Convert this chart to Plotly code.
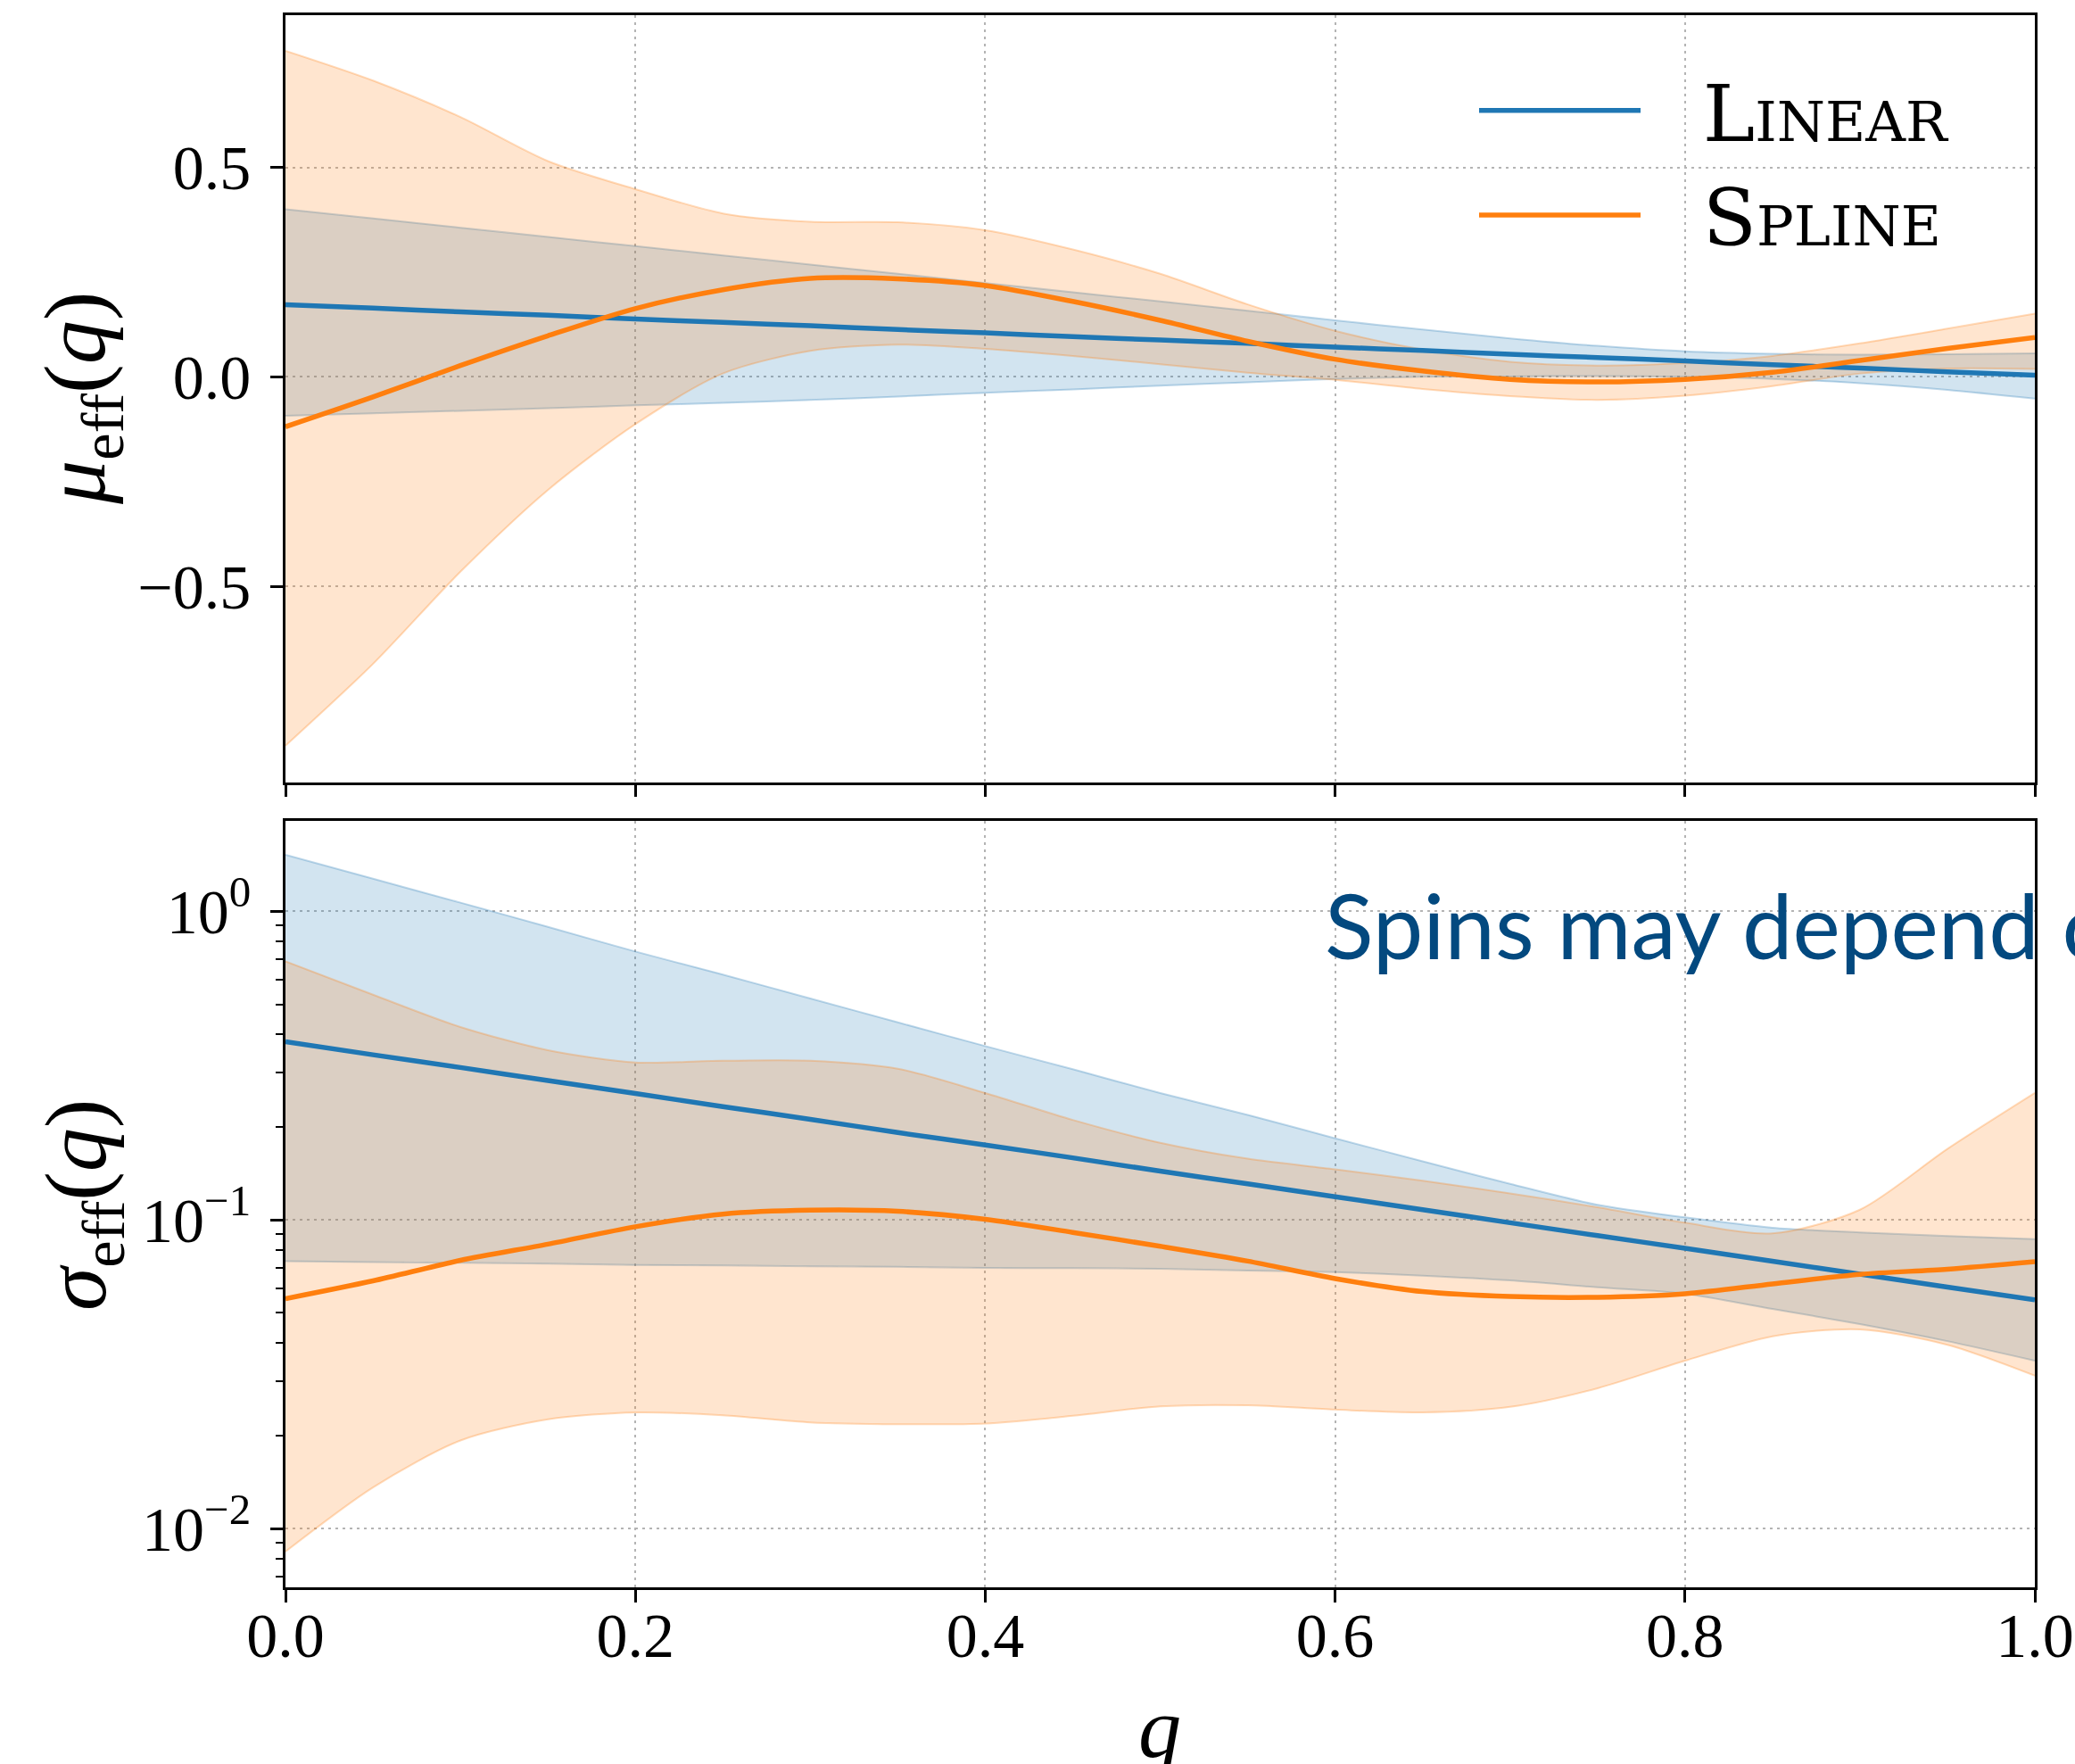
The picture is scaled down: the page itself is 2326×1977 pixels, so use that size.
import plotly.graph_objects as go

# ---------------- data ----------------
q = [0.0, 0.05, 0.1, 0.15, 0.2, 0.25, 0.3, 0.35, 0.4, 0.45, 0.5,
     0.55, 0.6, 0.65, 0.7, 0.75, 0.8, 0.85, 0.9, 0.95, 1.0]

# mu_eff(q) -- Linear model
mu_lin_med = [0.172, 0.164, 0.155, 0.147, 0.138, 0.130, 0.122, 0.113, 0.105, 0.096, 0.088,
              0.080, 0.071, 0.063, 0.054, 0.046, 0.038, 0.029, 0.021, 0.012, 0.004]
mu_lin_hi = [0.400, 0.378, 0.356, 0.334, 0.312, 0.290, 0.268, 0.246, 0.224, 0.202, 0.180,
             0.158, 0.135, 0.113, 0.092, 0.074, 0.061, 0.055, 0.053, 0.054, 0.056]
mu_lin_lo = [-0.093, -0.087, -0.081, -0.075, -0.068, -0.062, -0.055, -0.047, -0.038, -0.030, -0.021,
             -0.013, -0.005, 0.000, 0.001, 0.002, 0.000, -0.005, -0.015, -0.031, -0.052]

# mu_eff(q) -- Spline model
mu_spl_med = [-0.119, -0.048, 0.027, 0.098, 0.163, 0.208, 0.235, 0.234, 0.218, 0.180, 0.135,
              0.085, 0.042, 0.014, -0.006, -0.012, -0.006, 0.011, 0.039, 0.068, 0.094]
mu_spl_hi = [0.778, 0.707, 0.620, 0.515, 0.448, 0.390, 0.370, 0.369, 0.350, 0.304, 0.246,
             0.173, 0.110, 0.065, 0.036, 0.027, 0.033, 0.050, 0.080, 0.115, 0.151]
mu_spl_lo = [-0.880, -0.685, -0.465, -0.270, -0.113, 0.008, 0.062, 0.077, 0.067, 0.050, 0.030,
             0.010, -0.007, -0.029, -0.046, -0.055, -0.045, -0.022, 0.008, 0.020, 0.019]

# sigma_eff(q) -- Linear model
sg_lin_med = [0.378, 0.343, 0.312, 0.283, 0.257, 0.233, 0.212, 0.192, 0.175, 0.159, 0.144,
              0.131, 0.119, 0.108, 0.098, 0.089, 0.081, 0.0735, 0.0668, 0.0606, 0.0551]
sg_lin_hi = [1.524, 1.276, 1.067, 0.891, 0.741, 0.624, 0.522, 0.437, 0.366, 0.308, 0.258,
             0.219, 0.184, 0.155, 0.131, 0.112, 0.102, 0.0944, 0.0912, 0.0887, 0.0867]
sg_lin_lo = [0.0735, 0.0730, 0.0727, 0.0722, 0.0715, 0.0712, 0.0708, 0.0705, 0.0700, 0.0698, 0.0695,
             0.0686, 0.0678, 0.0660, 0.0637, 0.0605, 0.0577, 0.0515, 0.0460, 0.0405, 0.0350]

# sigma_eff(q) -- Spline model
sg_spl_med = [0.0556, 0.0635, 0.0740, 0.0835, 0.0951, 0.1045, 0.1076, 0.1067, 0.1005, 0.0912, 0.0822,
              0.0736, 0.0646, 0.0586, 0.0565, 0.0562, 0.0577, 0.0621, 0.0667, 0.0693, 0.0733]
sg_spl_hi = [0.689, 0.537, 0.422, 0.355, 0.324, 0.328, 0.328, 0.309, 0.258, 0.211, 0.178,
             0.158, 0.146, 0.134, 0.122, 0.110, 0.098, 0.0905, 0.108, 0.170, 0.258]
sg_spl_lo = [0.00843, 0.0136, 0.0193, 0.0226, 0.0238, 0.0233, 0.0221, 0.0218, 0.0219, 0.0232, 0.0249,
             0.0251, 0.0243, 0.0238, 0.0248, 0.0285, 0.0350, 0.0420, 0.0442, 0.0394, 0.0313]

series_names = ["Linear", "Spline"]
x_ticks = [0.0, 0.2, 0.4, 0.6, 0.8, 1.0]
x_ticktext = ["0.0", "0.2", "0.4", "0.6", "0.8", "1.0"]
mu_ticks = [-0.5, 0.0, 0.5]
mu_ticktext = ["\u22120.5", "0.0", "0.5"]
sg_ticks = [0.01, 0.1, 1.0]
sg_ticktext = ["10<sup>\u22122</sup>", "10<sup>\u22121</sup>", "10<sup>0</sup>"]
sg_minor = [m * 10 ** e for e in (-3, -2, -1, 0) for m in range(2, 10)]
annotation_text = "Spins may depend on"

# ---------------- style ----------------
C0 = "#1f77b4"
C1 = "#ff7f0e"
F0 = "rgba(31,119,180,0.2)"
F1 = "rgba(255,127,14,0.2)"
E0 = "rgba(31,119,180,0.28)"
E1 = "rgba(255,127,14,0.28)"
SERIF = "Liberation Serif"
LEG_PAD = "\u00a0\u00a0\u200a"

W, H = 2326, 1977
ML, MR, MT, MB = 320, 45, 17, 198
PW = W - ML - MR
PH = H - MT - MB


def px_x(px):
    return (px - ML) / PW


def px_y(py):
    return (H - MB - py) / PH


fig = go.Figure()


def band(x, lo, hi, xa, ya, edge, fillc):
    fig.add_trace(go.Scatter(x=x, y=lo, mode="lines", xaxis=xa, yaxis=ya,
                             line=dict(color=edge, width=2, shape="spline", smoothing=0.8),
                             showlegend=False, hoverinfo="skip"))
    fig.add_trace(go.Scatter(x=x, y=hi, mode="lines", xaxis=xa, yaxis=ya, fill="tonexty",
                             fillcolor=fillc,
                             line=dict(color=edge, width=2, shape="spline", smoothing=0.8),
                             showlegend=False, hoverinfo="skip"))


# top panel
band(q, mu_lin_lo, mu_lin_hi, "x", "y", E0, F0)
band(q, mu_spl_lo, mu_spl_hi, "x", "y", E1, F1)
fig.add_trace(go.Scatter(x=q, y=mu_lin_med, mode="lines", name=LEG_PAD + series_names[0],
                         xaxis="x", yaxis="y", legendgroup="a",
                         line=dict(color=C0, width=5.5, shape="spline", smoothing=0.8)))
fig.add_trace(go.Scatter(x=q, y=mu_spl_med, mode="lines", name=LEG_PAD + series_names[1],
                         xaxis="x", yaxis="y", legendgroup="b",
                         line=dict(color=C1, width=5.5, shape="spline", smoothing=0.8)))

# bottom panel
band(q, sg_lin_lo, sg_lin_hi, "x2", "y2", E0, F0)
band(q, sg_spl_lo, sg_spl_hi, "x2", "y2", E1, F1)
fig.add_trace(go.Scatter(x=q, y=sg_lin_med, mode="lines", name=series_names[0], xaxis="x2", yaxis="y2",
                         line=dict(color=C0, width=5.5, shape="spline", smoothing=0.8), showlegend=False))
fig.add_trace(go.Scatter(x=q, y=sg_spl_med, mode="lines", name=series_names[1], xaxis="x2", yaxis="y2",
                         line=dict(color=C1, width=5.5, shape="spline", smoothing=0.8), showlegend=False))

axis_common = dict(
    showline=True, linecolor="black", linewidth=2.5, mirror=True,
    ticks="outside", ticklen=14, tickwidth=2.5, tickcolor="black",
    showgrid=True, gridcolor="#b4b4b4", gridwidth=2, griddash="3px,5px",
    zeroline=False, automargin=False,
    tickfont=dict(family=SERIF, size=70, color="black"),
)

top_dom = [px_y(876.6), 1.0]
bot_dom = [0.0, px_y(920)]

fig.update_layout(
    width=W, height=H,
    margin=dict(l=ML, r=MR, t=MT, b=MB, autoexpand=False),
    paper_bgcolor="white", plot_bgcolor="white",
    showlegend=True,
    legend=dict(
        x=px_x(1653), y=px_y(60), xanchor="left", yanchor="top",
        font=dict(family="DejaVu Serif", size=88, color="black", variant="small-caps"),
        itemwidth=181, bgcolor="rgba(0,0,0,0)", borderwidth=0,
        traceorder="normal", tracegroupgap=4, itemclick=False,
    ),
    xaxis=dict(axis_common, domain=[0, 1], range=[0, 1], anchor="y",
               tickvals=x_ticks, ticktext=x_ticktext, showticklabels=False),
    yaxis=dict(axis_common, domain=top_dom, range=[-0.967, 0.863], anchor="x",
               tickvals=mu_ticks, ticktext=mu_ticktext, ticklabelstandoff=8),
    xaxis2=dict(axis_common, domain=[0, 1], range=[0, 1], anchor="y2",
                tickvals=x_ticks, ticktext=x_ticktext, ticklabelstandoff=-23),
    yaxis2=dict(axis_common, domain=bot_dom, type="log", range=[-2.19, 0.293], anchor="x2",
                tickvals=sg_ticks, ticktext=sg_ticktext, ticklabelstandoff=8,
                minor=dict(ticks="outside", ticklen=8, tickwidth=2, tickcolor="black",
                           tickvals=sg_minor, showgrid=False)),
)

fig.add_annotation(text="<i>\u03bc</i><sub>eff</sub>(<i>q</i>)", xref="paper", yref="paper",
                   x=px_x(92), y=px_y(447), xanchor="center", yanchor="middle", textangle=-90,
                   showarrow=False, font=dict(family=SERIF, size=98, color="black"))
fig.add_annotation(text="<i>\u03c3</i><sub>eff</sub>(<i>q</i>)", xref="paper", yref="paper",
                   x=px_x(92), y=px_y(1350), xanchor="center", yanchor="middle", textangle=-90,
                   showarrow=False, font=dict(family=SERIF, size=98, color="black"))
fig.add_annotation(text="<i>q</i>", xref="paper", yref="paper",
                   x=px_x(1300), y=px_y(1936), xanchor="center", yanchor="middle",
                   showarrow=False, font=dict(family=SERIF, size=96, color="black"))
fig.add_annotation(text=annotation_text, xref="paper", yref="paper",
                   x=px_x(1483), y=px_y(1036), xanchor="left", yanchor="middle",
                   showarrow=False, font=dict(family="Lato", size=101, color="#03497f"))

fig.write_html("out.html")
